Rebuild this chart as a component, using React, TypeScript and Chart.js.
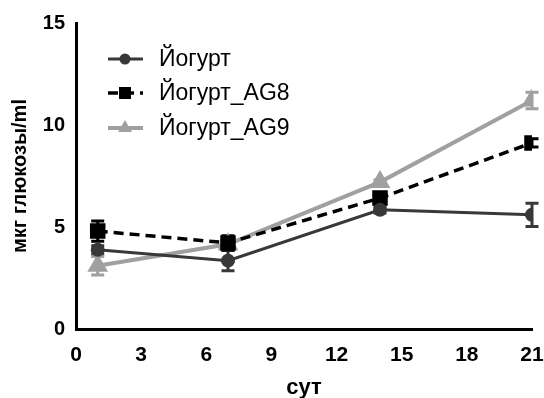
import React, { useEffect, useRef } from "react";
import { Chart, registerables } from "chart.js";

Chart.register(...registerables);

const days = [1, 7, 14, 21];
const xTicks = [0, 3, 6, 9, 12, 15, 18, 21];
const yTicks = [0, 5, 10, 15];

const labels = ["Йогурт", "Йогурт_AG8", "Йогурт_AG9"];
const yogurt = [3.88, 3.35, 5.84, 5.6];
const yogurtErr = [0.2, 0.5, 0.15, 0.57];
const ag8 = [4.8, 4.22, 6.42, 9.12];
const ag8Err = [0.5, 0.35, 0.15, 0.2];
const ag9 = [3.1, 4.15, 7.2, 11.2];
const ag9Err = [0.45, 0.2, 0.1, 0.4];

const errors = [yogurtErr, ag8Err, ag9Err];

const FONT = "'Liberation Sans', Arial, sans-serif";

const errorBarPlugin = {
  id: "errbars",
  beforeDatasetsDraw(chart: any) {
    const ctx = chart.ctx;
    const xs = chart.scales.x;
    const ys = chart.scales.y;
    chart.data.datasets.forEach((ds: any, i: number) => {
      const err = errors[i];
      ctx.save();
      ctx.strokeStyle = ds.borderColor;
      ctx.lineWidth = 3;
      ctx.setLineDash([]);
      ds.data.forEach((p: any, j: number) => {
        const x = xs.getPixelForValue(p.x);
        const y1 = ys.getPixelForValue(p.y + err[j]);
        const y2 = ys.getPixelForValue(p.y - err[j]);
        ctx.beginPath();
        ctx.moveTo(x, y1);
        ctx.lineTo(x, y2);
        ctx.moveTo(x - 6.5, y1);
        ctx.lineTo(x + 6.5, y1);
        ctx.moveTo(x - 6.5, y2);
        ctx.lineTo(x + 6.5, y2);
        ctx.stroke();
      });
      ctx.restore();
    });
  },
};

const legendPlugin = {
  id: "innerLegend",
  afterDraw(chart: any) {
    const ctx = chart.ctx;
    const rows = [59, 93, 128];
    chart.data.datasets.forEach((ds: any, i: number) => {
      const y = rows[i];
      const x0 = 108;
      const x1 = 143;
      ctx.save();
      ctx.strokeStyle = ds.borderColor;
      ctx.lineWidth = ds.borderWidth;
      ctx.setLineDash(ds.borderDash || []);
      ctx.beginPath();
      ctx.moveTo(x0, y);
      ctx.lineTo(x1, y);
      ctx.stroke();
      ctx.setLineDash([]);
      ctx.fillStyle = ds.pointBackgroundColor;
      const cx = 125;
      const r = ds.pointRadius;
      ctx.beginPath();
      if (ds.pointStyle === "circle") {
        ctx.arc(cx, y, r, 0, Math.PI * 2);
      } else if (ds.pointStyle === "rect") {
        const s = r * Math.SQRT1_2;
        ctx.rect(cx - s, y - s, 2 * s, 2 * s);
      } else {
        const h = r * 1.5;
        const w = r * Math.sqrt(3) / 2;
        ctx.moveTo(cx, y - r);
        ctx.lineTo(cx + w, y + h - r);
        ctx.lineTo(cx - w, y + h - r);
        ctx.closePath();
      }
      ctx.fill();
      ctx.fillStyle = "#000";
      ctx.font = "23px " + FONT;
      ctx.textBaseline = "middle";
      ctx.textAlign = "left";
      ctx.fillText(ds.label, 159, y + 1);
      ctx.restore();
    });
  },
};

export default function App() {
  const ref = useRef<HTMLCanvasElement | null>(null);
  useEffect(() => {
    document.body.style.margin = "0";
    const mk = (vals: number[]) => vals.map((v, i) => ({ x: days[i], y: v }));
    const chart = new Chart(ref.current as HTMLCanvasElement, {
      type: "line",
      data: {
        datasets: [
          {
            label: labels[0],
            data: mk(yogurt),
            borderColor: "#383838",
            backgroundColor: "#383838",
            pointBackgroundColor: "#383838",
            pointBorderColor: "#383838",
            borderWidth: 3,
            pointStyle: "circle",
            pointRadius: 5.5,
          },
          {
            label: labels[1],
            data: mk(ag8),
            borderColor: "#000000",
            backgroundColor: "#000000",
            pointBackgroundColor: "#000000",
            pointBorderColor: "#000000",
            borderWidth: 3.5,
            borderDash: [10, 6],
            pointStyle: "rect",
            pointRadius: 8.5,
          },
          {
            label: labels[2],
            data: mk(ag9),
            borderColor: "#a0a0a0",
            backgroundColor: "#a0a0a0",
            pointBackgroundColor: "#a0a0a0",
            pointBorderColor: "#a0a0a0",
            borderWidth: 4,
            pointStyle: "triangle",
            pointRadius: 8,
          },
        ] as any,
      },
      options: {
        animation: false,
        responsive: false,
        maintainAspectRatio: false,
        layout: { padding: { top: 23, right: 11, bottom: 0, left: 0 } },
        plugins: { legend: { display: false }, tooltip: { enabled: false } },
        scales: {
          x: {
            type: "linear",
            min: 0,
            max: 21,
            afterBuildTicks: (s: any) => {
              s.ticks = xTicks.map((v) => ({ value: v }));
            },
            afterFit: (s: any) => {
              s.height = 69;
              s.paddingRight = 0;
              s.paddingLeft = 0;
            },
            grid: { display: false, drawTicks: true, tickLength: 8, tickColor: "#000", tickWidth: 3 } as any,
            border: { color: "#000", width: 3 },
            ticks: {
              color: "#000",
              padding: 6,
              font: { family: FONT, size: 21, weight: "bold" },
              maxRotation: 0,
              autoSkip: false,
            },
            title: {
              display: true,
              text: "сут",
              color: "#000",
              font: { family: FONT, size: 22, weight: "bold", lineHeight: 1 },
              padding: { top: 0, bottom: -1 },
            },
          },
          y: {
            type: "linear",
            min: 0,
            max: 15,
            afterBuildTicks: (s: any) => {
              s.ticks = yTicks.map((v) => ({ value: v }));
            },
            afterFit: (s: any) => {
              s.width = 76;
              s.paddingTop = 0;
              s.paddingBottom = 0;
            },
            grid: { display: false, drawTicks: true, tickLength: 8, tickColor: "#000", tickWidth: 3 } as any,
            border: { color: "#000", width: 3 },
            ticks: {
              color: "#000",
              padding: 3,
              font: { family: FONT, size: 20, weight: "bold" },
              autoSkip: false,
            },
            title: {
              display: true,
              text: "мкг глюкозы/ml",
              color: "#000",
              font: { family: FONT, size: 20, weight: "bold", lineHeight: 1 },
              padding: { top: 10, bottom: 0 },
            },
          },
        },
      },
      plugins: [errorBarPlugin, legendPlugin],
    } as any);
    return () => chart.destroy();
  }, []);
  return (
    <div style={{ width: 544, height: 398 }}>
      <canvas ref={ref} width={544} height={398} style={{ display: "block" }} />
    </div>
  );
}
